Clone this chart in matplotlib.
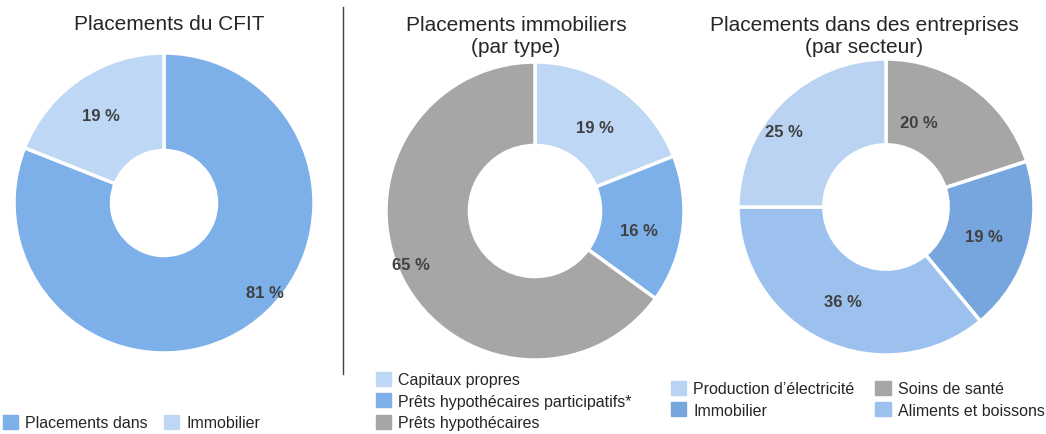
import matplotlib.pyplot as plt
from matplotlib.patches import Patch
import matplotlib.lines as mlines

plt.rcParams['font.family'] = ['Liberation Sans', 'DejaVu Sans']

# donnees
cfit_labels = ['Placements dans', 'Immobilier']
cfit_vals = [81, 19]
cfit_cols = ['#7DAFE9', '#BDD7F4']

immo_labels = ['Capitaux propres', 'Prêts hypothécaires participatifs*', 'Prêts hypothécaires']
immo_vals = [19, 16, 65]
immo_cols = ['#BDD7F4', '#7DAFE9', '#A6A6A6']

entr_labels = ['Soins de santé', 'Immobilier', 'Aliments et boissons', "Production d\u2019électricité"]
entr_vals = [20, 19, 36, 25]
entr_cols = ['#A6A6A6', '#77A5DD', '#9DC1EE', '#BAD3F3']

W, H = 1046, 435
fig = plt.figure(figsize=(W / 100, H / 100), dpi=100)


def px_axes(left, top, size):
    return fig.add_axes([left / W, (H - top - size) / H, size / W, size / H])


def donut(ax, vals, cols, hole, label_pos):
    wedges, _ = ax.pie(vals, colors=cols, startangle=90, counterclock=False, radius=1,
                       wedgeprops=dict(width=1 - hole, edgecolor='white', linewidth=2.5))
    for v, (x, y) in zip(vals, label_pos):
        ax.text(x, y, f'{v} %', ha='center', va='center', fontsize=12,
                fontweight='bold', color='#404040')
    ax.set_xlim(-1, 1)
    ax.set_ylim(-1, 1)
    ax.set_aspect('equal')
    ax.axis('off')
    return wedges


ax1 = px_axes(14, 54, 300)
donut(ax1, cfit_vals, cfit_cols, 0.35, [(0.67, -0.6), (-0.42, 0.58)])
ax2 = px_axes(386, 63, 298)
donut(ax2, immo_vals, immo_cols, 0.44, [(0.4, 0.56), (0.7, -0.13), (-0.83, -0.36)])
ax3 = px_axes(738, 60, 296)
donut(ax3, entr_vals, entr_cols, 0.42, [(0.22, 0.57), (0.66, -0.2), (-0.29, -0.64), (-0.69, 0.51)])

# titres
fig.text(169 / W, 1 - 25 / H, 'Placements du CFIT', ha='center', va='center', fontsize=15, color='#262626')
fig.text(516 / W, 1 - 36.5 / H, 'Placements immobiliers\n(par type)', ha='center', va='center',
         fontsize=15, color='#262626', linespacing=1.2)
fig.text(864 / W, 1 - 36.5 / H, 'Placements dans des entreprises\n(par secteur)', ha='center', va='center',
         fontsize=15, color='#262626', linespacing=1.2)

# ligne de separation
fig.add_artist(mlines.Line2D([343 / W, 343 / W], [1 - 8 / H, 1 - 375 / H], color='#404040', linewidth=1))

# legendes
leg_kw = dict(frameon=False, fontsize=11.5, handlelength=0.95, handleheight=0.95,
              handletextpad=0.45, borderpad=0, borderaxespad=0, labelcolor='#262626')

h1 = [Patch(color=c, label=l) for c, l in zip(cfit_cols, cfit_labels)]
fig.legend(handles=h1, loc='upper left', bbox_to_anchor=(3 / W, 1 - 416 / H), ncol=2,
           columnspacing=1.0, **leg_kw)

h2 = [Patch(color=c, label=l) for c, l in zip(immo_cols, immo_labels)]
fig.legend(handles=h2, loc='upper left', bbox_to_anchor=(376 / W, 1 - 373 / H), ncol=1,
           labelspacing=0.38, **leg_kw)

order = [3, 1, 0, 2]
h3 = [Patch(color=entr_cols[i], label=entr_labels[i]) for i in order]
fig.legend(handles=h3, loc='upper left', bbox_to_anchor=(671 / W, 1 - 382 / H), ncol=2,
           columnspacing=1.3, labelspacing=0.38, **leg_kw)

fig.savefig('out.png', dpi=100)
